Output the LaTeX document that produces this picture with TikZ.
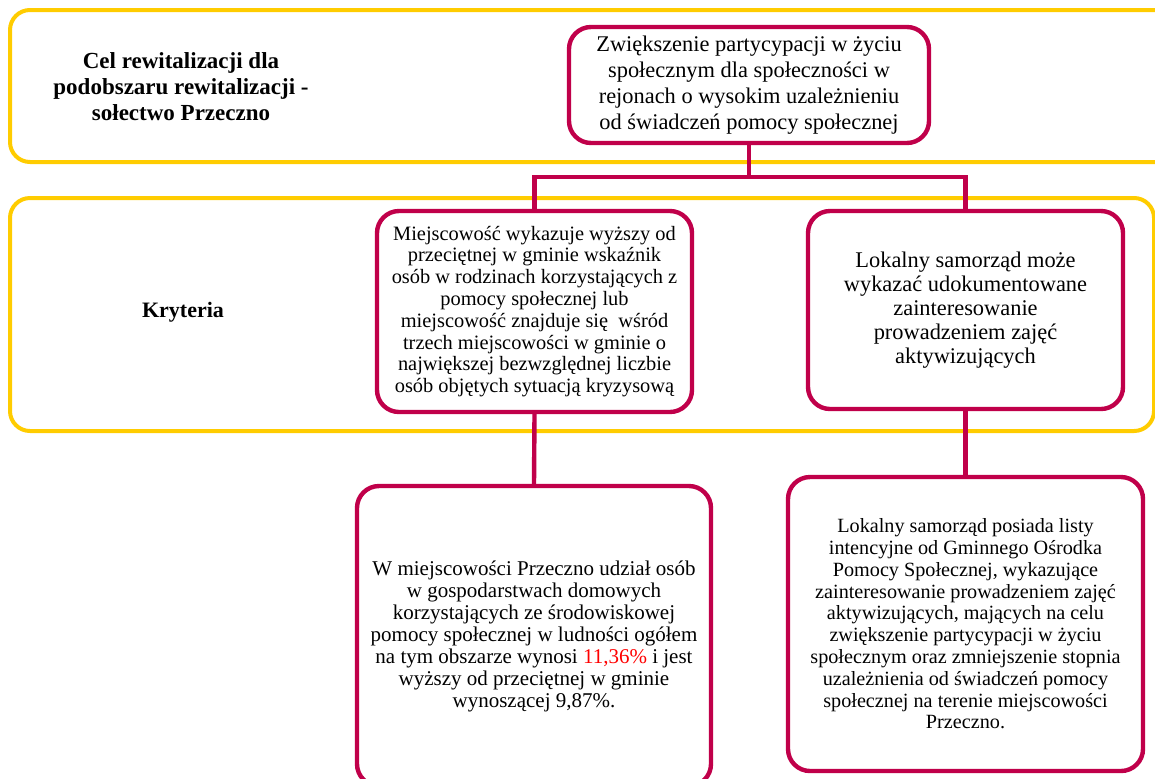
\documentclass[tikz,border=0pt]{standalone}
\usepackage{fontspec}
\setmainfont{Liberation Serif}
\usetikzlibrary{calc}
\definecolor{zolty}{RGB}{255,204,0}
\definecolor{karmin}{RGB}{192,0,74}
\tikzset{
  pasek/.style={draw=zolty,line width=2pt,rounded corners=10pt},
  ramka/.style={draw=karmin,fill=white,line width=2.2pt,rounded corners=11pt,
    align=center,inner sep=2pt},
  polacz/.style={draw=karmin,line width=2.2pt},
  tytul/.style={font=\bfseries\fontsize{11.5}{13}\selectfont,align=center}
}

\begin{document}
\begin{tikzpicture}[x=0.5pt,y=-0.5pt]
    \useasboundingbox (0,0) rectangle (1155,778);
    \clip (0,0) rectangle (1155,778);
    %bands
    \draw[pasek] (10,10) rectangle (1185,162);
    \draw[pasek] (10,198) rectangle (1154,431);
    \node[tytul] (celtxt) at (181,87) {Cel rewitalizacji dla\\podobszaru rewitalizacji -\\sołectwo Przeczno};
    \node[tytul,font=\bfseries\fontsize{11}{13}\selectfont] (kryttxt) at (183,312) {Kryteria};
    % goal
    \node[ramka,minimum width=180pt,minimum height=58pt,font=\fontsize{11.2}{13}\selectfont] (cel) at (749,85)
      {Zwiększenie partycypacji w życiu\\społecznym dla społeczności w\\rejonach o wysokim uzależnieniu\\od świadczeń pomocy społecznej};
    % criteria
    \node[ramka,minimum width=157.5pt,minimum height=100.5pt,font=\fontsize{10.2}{10.9}\selectfont] (kryt1) at (534.5,311.5)
      {Miejscowość wykazuje wyższy od\\przeciętnej w gminie wskaźnik\\osób w rodzinach korzystających z\\pomocy społecznej lub\\miejscowość znajduje się\ \ wśród\\trzech miejscowości w gminie o\\największej bezwzględnej liczbie\\osób objętych sytuacją kryzysową};
    \node[ramka,minimum width=157.5pt,minimum height=99pt,font=\fontsize{11.2}{12}\selectfont] (kryt2) at (965.5,310)
      {Lokalny samorząd może\\wykazać udokumentowane\\zainteresowanie\\prowadzeniem zajęć\\aktywizujących};
    % indicators
    \node[ramka,minimum width=177pt,minimum height=150pt,font=\fontsize{10.5}{11}\selectfont] (pom1) at (534,636)
      {W miejscowości Przeczno udział osób\\w gospodarstwach domowych\\korzystających ze środowiskowej\\pomocy społecznej w ludności ogółem\\na tym obszarze wynosi \textcolor{red}{11,36\%} i jest\\wyższy od przeciętnej w gminie\\wynoszącej 9,87\%.};
    \node[ramka,minimum width=177.5pt,minimum height=147pt,font=\fontsize{10.1}{10.9}\selectfont] (pom2) at (965.5,624)
      {Lokalny samorząd posiada listy\\intencyjne od Gminnego Ośrodka\\Pomocy Społecznej, wykazujące\\zainteresowanie prowadzeniem zajęć\\aktywizujących, mających na celu\\zwiększenie partycypacji w życiu\\społecznym oraz zmniejszenie stopnia\\uzależnienia od świadczeń pomocy\\społecznej na terenie miejscowości\\Przeczno.};
    % links
    \coordinate (szyna) at (749,177);
    \draw[polacz] (cel.south) -- (szyna);
    \draw[polacz] (kryt1.north) |- (szyna) -| (kryt2.north);
    \draw[polacz] (kryt1.south) -- (pom1.north);
    \draw[polacz] (kryt2.south) -- (pom2.north);
\end{tikzpicture}
\end{document}
